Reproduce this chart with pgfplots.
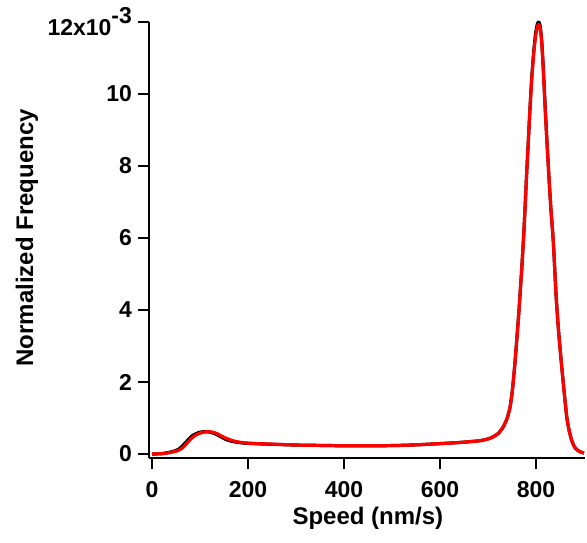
\documentclass[border=0pt]{standalone}
\usepackage{fontspec}
\setmainfont{Liberation Sans}
\usepackage{pgfplots}
\usepackage{pgfplotstable}
\pgfplotsset{compat=1.18}

% values in units of 1e-3
\pgfplotstableread{
x y
0 0.0
20 0.01
35 0.045
48 0.09
56 0.14
63 0.22
70 0.32
77 0.42
84 0.51
91 0.56
98 0.60
106 0.62
114 0.62
123 0.60
132 0.56
142 0.49
153 0.41
164 0.36
176 0.33
190 0.305
204 0.295
220 0.285
242 0.275
270 0.262
300 0.25
350 0.24
400 0.23
450 0.23
500 0.235
550 0.255
600 0.29
640 0.32
683 0.37
700 0.42
711 0.48
722 0.58
732 0.76
740 1.00
746 1.31
751 1.80
756 2.52
760 3.20
764 3.90
767 4.50
770 5.10
774 6.00
777 6.80
780 7.67
784 8.70
787 9.50
791 10.45
795 11.15
799 11.68
803 11.96
806 12.00
809 11.86
812 11.45
815 10.75
819 9.65
823 8.62
827 7.67
831 6.80
836 5.90
842 4.35
847 3.40
853 2.50
858 1.80
864 1.03
869 0.65
874 0.39
880 0.20
887 0.10
894 0.05
900 0.03
}\blackcurve

\pgfplotstableread{
x y
0 0.0
20 0.01
37 0.04
50 0.08
58 0.12
65 0.19
72 0.29
79 0.39
86 0.48
93 0.54
100 0.58
108 0.61
117 0.62
126 0.61
135 0.57
145 0.50
156 0.43
166 0.38
176 0.345
190 0.315
204 0.30
220 0.29
242 0.28
270 0.265
300 0.25
350 0.24
400 0.23
450 0.23
500 0.235
550 0.255
600 0.29
640 0.32
683 0.37
700 0.42
711 0.48
722 0.58
732 0.76
740 1.00
746 1.31
751 1.80
756 2.52
760 3.20
764 3.90
767 4.50
770 5.10
774 6.00
777 6.80
780 7.67
784 8.70
787 9.50
791 10.40
795 11.10
799 11.60
803 11.88
806 11.93
809 11.80
812 11.40
815 10.70
819 9.60
823 8.60
827 7.67
831 6.80
836 5.90
842 4.35
847 3.40
853 2.50
858 1.80
864 1.03
869 0.65
874 0.39
880 0.20
887 0.10
894 0.05
900 0.03
}\redcurve

\begin{document}
\begin{tikzpicture}
\useasboundingbox (-74.5pt,-42pt) rectangle (219pt,229pt);
\begin{axis}[
  scale only axis,
  width=218pt, height=218pt,
  xmin=-6.25, xmax=902,
  ymin=-0.11, ymax=12,
  axis lines*=left,
  axis line style={line width=1pt, black},
  tick align=outside,
  major tick length=5.5pt,
  tick style={line width=1pt, black},
  xtick={0,200,400,600,800},
  xticklabels={0,200,400,600,800},
  ytick={0,2,4,6,8,10,12},
  yticklabels={0,2,4,6,8,10,{12x10\raisebox{6pt}{-3}}},
  /pgf/number format/assume math mode=true,
  ticklabel style={font=\fontsize{11.5}{13}\selectfont\bfseries},
  yticklabel style={xshift=0.5pt},
  xticklabel style={yshift=-2.5pt},
  xlabel={Speed (nm/s)},
  ylabel={Normalized Frequency},
  every axis x label/.style={at={(axis description cs:0.502,-0.139)}, anchor=center, font=\fontsize{12}{14}\selectfont\bfseries},
  every axis y label/.style={at={(axis description cs:-0.28,0.505)}, rotate=90, anchor=center, font=\fontsize{12}{14}\selectfont\bfseries},
  clip=false,
]
\addplot[black, line width=1.6pt, smooth, tension=0.3, line join=round] table {\blackcurve};
\addplot[red, line width=1.6pt, smooth, tension=0.3, line join=round] table {\redcurve};
\end{axis}
\end{tikzpicture}
\end{document}
